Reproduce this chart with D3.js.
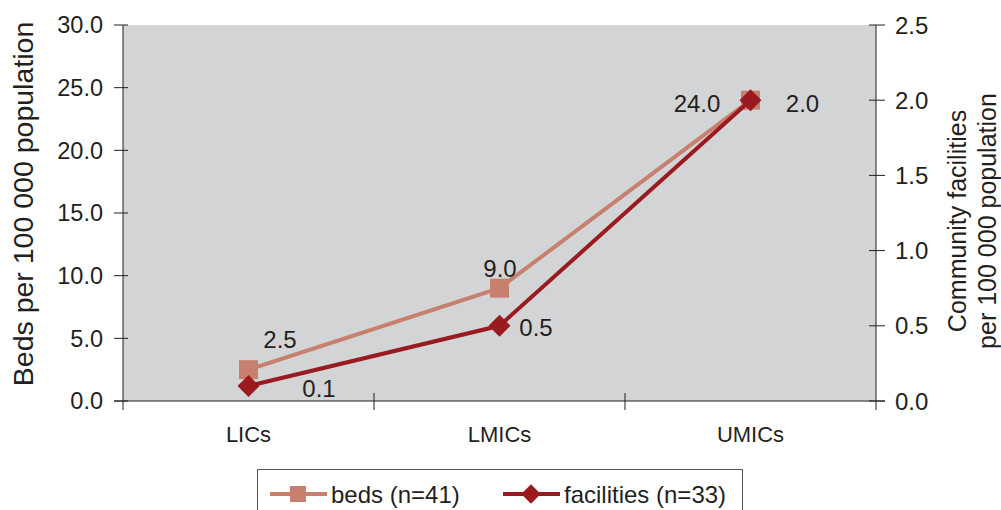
<!DOCTYPE html>
<html><head><meta charset="utf-8">
<script src="https://cdn.jsdelivr.net/npm/d3@7/dist/d3.min.js"></script>
<style>body{margin:0;background:#fff;}svg{display:block;font-family:"Liberation Sans",Arial,sans-serif;}</style>
</head><body>
<svg id="c" width="1001" height="510"></svg>
<script>
const categories = ["LICs","LMICs","UMICs"];
const beds = [2.5, 9.0, 24.0];
const facilities = [0.1, 0.5, 2.0];
const bedLabels = ["2.5","9.0","24.0"];
const facLabels = ["0.1","0.5","2.0"];
const leftTicks = [0,5,10,15,20,25,30];
const rightTicks = [0,0.5,1,1.5,2,2.5];
const legendNames = ["beds (n=41)","facilities (n=33)"];

const svg = d3.select("#c");
const L=123, R=876, T=25, B=401;
const x = d3.scaleBand().domain(categories).range([L,R]);
const yL = d3.scaleLinear().domain([0,30]).range([B,T]);
const yR = d3.scaleLinear().domain([0,2.5]).range([B,T]);
const cBeds="#c8806e", cFac="#9a1b1f", txt="#231f20";

svg.append("rect").attr("x",L).attr("y",T).attr("width",R-L).attr("height",B-T).attr("fill","#d3d4d6");

// left axis
const gl = svg.append("g");
gl.append("line").attr("x1",L).attr("x2",L).attr("y1",T).attr("y2",B+9).attr("stroke",txt).attr("stroke-width",1);
leftTicks.forEach(v=>{
  gl.append("line").attr("x1",L-9).attr("x2",L+5).attr("y1",yL(v)).attr("y2",yL(v)).attr("stroke",txt);
  gl.append("text").attr("x",103).attr("y",yL(v)).attr("dy","0.36em").attr("text-anchor","end")
    .attr("font-size",23.5).attr("fill",txt).text(d3.format(".1f")(v));
});
// right axis
const gr = svg.append("g");
gr.append("line").attr("x1",R).attr("x2",R).attr("y1",T).attr("y2",B+9).attr("stroke",txt);
rightTicks.forEach(v=>{
  gr.append("line").attr("x1",R-7).attr("x2",R+9).attr("y1",yR(v)).attr("y2",yR(v)).attr("stroke",txt);
  gr.append("text").attr("x",895).attr("y",yR(v)).attr("dy","0.36em").attr("text-anchor","start")
    .attr("font-size",24).attr("fill",txt).text(d3.format(".1f")(v));
});
// bottom axis
svg.append("line").attr("x1",L-9).attr("x2",R+9).attr("y1",B).attr("y2",B).attr("stroke",txt);
categories.forEach((c,i)=>{
  if(i>0){ const xx=x(c); svg.append("line").attr("x1",xx).attr("x2",xx).attr("y1",B-8).attr("y2",B+9).attr("stroke",txt); }
  svg.append("text").attr("x",x(c)+x.bandwidth()/2).attr("y",442).attr("text-anchor","middle")
    .attr("font-size",22).attr("fill",txt).text(c);
});

// axis titles
svg.append("text").attr("transform","translate(33,204) rotate(-90)").attr("text-anchor","middle")
  .attr("font-size",28.5).attr("fill",txt).text("Beds per 100 000 population");
svg.append("text").attr("transform","translate(966,221) rotate(-90)").attr("text-anchor","middle")
  .attr("font-size",25).attr("fill",txt).text("Community facilities");
svg.append("text").attr("transform","translate(996,221) rotate(-90)").attr("text-anchor","middle")
  .attr("font-size",25).attr("fill",txt).text("per 100 000 population");

const cx = c => x(c)+x.bandwidth()/2;
// beds line
svg.append("path").datum(beds).attr("fill","none").attr("stroke",cBeds).attr("stroke-width",4)
  .attr("d", d3.line().x((d,i)=>cx(categories[i])).y(d=>yL(d)));
svg.selectAll(".sq").data(beds).enter().append("rect")
  .attr("x",(d,i)=>cx(categories[i])-9.5).attr("y",d=>yL(d)-9.5).attr("width",19).attr("height",19).attr("fill",cBeds);
// facilities line
svg.append("path").datum(facilities).attr("fill","none").attr("stroke",cFac).attr("stroke-width",4)
  .attr("d", d3.line().x((d,i)=>cx(categories[i])).y(d=>yR(d)));
const dia = d3.symbol().type(d3.symbolSquare).size(240);
svg.selectAll(".dm").data(facilities).enter().append("path").attr("d",dia)
  .attr("transform",(d,i)=>`translate(${cx(categories[i])},${yR(d)}) rotate(45)`).attr("fill",cFac);

// value labels (offsets: dx to text centre, dy to baseline)
const bedOff = [[31.5,-22],[0.5,-11],[-53.5,12]];
const facOff = [[70.5,11],[36.5,10],[52,12]];
beds.forEach((d,i)=>svg.append("text").attr("x",cx(categories[i])+bedOff[i][0]).attr("y",yL(d)+bedOff[i][1])
  .attr("text-anchor","middle").attr("font-size",24).attr("fill",txt).text(bedLabels[i]));
facilities.forEach((d,i)=>svg.append("text").attr("x",cx(categories[i])+facOff[i][0]).attr("y",yR(d)+facOff[i][1])
  .attr("text-anchor","middle").attr("font-size",24).attr("fill",txt).text(facLabels[i]));

// legend
svg.append("rect").attr("x",257.5).attr("y",469.5).attr("width",485).attr("height",50).attr("fill","#fff").attr("stroke","#555");
const lg = [{x:270,c:cBeds,t:"sq"},{x:503,c:cFac,t:"dm"}];
lg.forEach((l,i)=>{
  const ly=494;
  svg.append("line").attr("x1",l.x).attr("x2",l.x+57).attr("y1",ly).attr("y2",ly).attr("stroke",l.c).attr("stroke-width",4);
  if(l.t==="sq") svg.append("rect").attr("x",l.x+28-8).attr("y",ly-8).attr("width",16).attr("height",16).attr("fill",l.c);
  else svg.append("path").attr("d",d3.symbol().type(d3.symbolSquare).size(190)).attr("transform",`translate(${l.x+28},${ly}) rotate(45)`).attr("fill",l.c);
  svg.append("text").attr("x",l.x+61).attr("y",ly+9).attr("font-size",24).attr("fill",txt).text(legendNames[i]);
});
</script>
</body></html>
